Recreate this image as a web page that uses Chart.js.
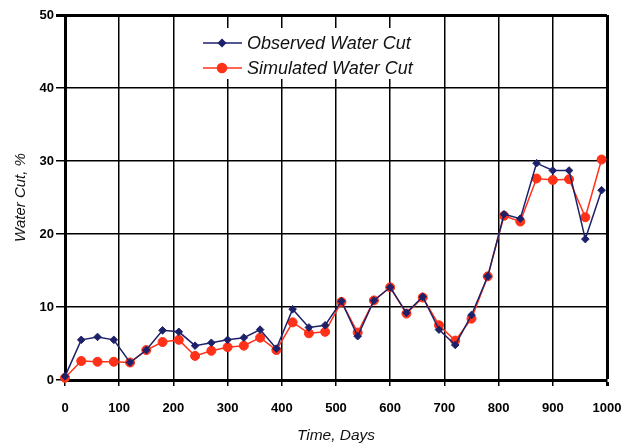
<!DOCTYPE html>
<html>
<head>
<meta charset="utf-8">
<script src="https://cdn.jsdelivr.net/npm/chart.js@4/dist/chart.umd.min.js"></script>
<style>
html,body{margin:0;padding:0;background:#fff;}
#wrap{width:629px;height:447px;position:relative;}
</style>
</head>
<body>
<div id="wrap"><canvas id="c" width="629" height="447"></canvas></div>
<script>
const days = [0,30,60,90,120,150,180,210,240,270,300,330,360,390,420,450,480,510,540,570,600,630,660,690,720,750,780,810,840,870,900,930,960,990];
const observed = [0.5,5.5,5.9,5.5,2.4,4.1,6.8,6.6,4.7,5.1,5.5,5.8,6.9,4.3,9.7,7.2,7.5,10.8,6.0,10.9,12.7,9.2,11.4,6.9,4.8,8.9,14.2,22.7,22.1,29.7,28.7,28.7,19.3,26.0];
const simulated = [0.3,2.6,2.5,2.5,2.4,4.1,5.2,5.5,3.3,4.0,4.5,4.7,5.8,4.1,7.9,6.4,6.6,10.7,6.5,10.9,12.7,9.1,11.3,7.5,5.4,8.4,14.2,22.5,21.7,27.6,27.4,27.5,22.3,30.2];
const seriesNames = ["Observed Water Cut","Simulated Water Cut"];
const xTitle = "Time, Days";
const yTitle = "Water Cut, %";

const blue = "#1d2169";
const red = "#ff3219";

const legendPlugin = {
  id: "insideLegend",
  afterDatasetsDraw(chart) {
    const ctx = chart.ctx;
    ctx.save();
    ctx.fillStyle = "#fff";
    ctx.fillRect(180, 28, 258, 51);
    const items = [
      {name: seriesNames[0], color: blue, style: "rectRot", r: 3.5, y: 43},
      {name: seriesNames[1], color: red, style: "circle", r: 4.5, y: 68}
    ];
    items.forEach(it => {
      ctx.strokeStyle = it.color;
      ctx.lineWidth = 1.5;
      ctx.beginPath();
      ctx.moveTo(203, it.y);
      ctx.lineTo(242, it.y);
      ctx.stroke();
      ctx.fillStyle = it.color;
      Chart.helpers.drawPoint(ctx, {pointStyle: it.style, radius: it.r, borderWidth: 1}, 222, it.y);
      ctx.fill();
      ctx.fillStyle = "#111";
      ctx.font = "italic 18px 'Liberation Sans', Arial, sans-serif";
      ctx.textBaseline = "middle";
      ctx.textAlign = "left";
      ctx.fillText(it.name, 247, it.y + 1);
    });
    ctx.restore();
  }
};

new Chart(document.getElementById("c"), {
  type: "line",
  data: {
    datasets: [
      {
        label: seriesNames[0],
        data: days.map((d,i)=>({x:d,y:observed[i]})),
        borderColor: blue,
        backgroundColor: blue,
        borderWidth: 1.5,
        pointStyle: "rectRot",
        pointRadius: 3.8,
        pointBorderWidth: 1,
        tension: 0
      },
      {
        label: seriesNames[1],
        data: days.map((d,i)=>({x:d,y:simulated[i]})),
        borderColor: red,
        backgroundColor: red,
        borderWidth: 1.5,
        pointStyle: "circle",
        pointRadius: 4.5,
        pointBorderWidth: 1,
        tension: 0
      }
    ]
  },
  options: {
    responsive: false,
    animation: false,
    clip: false,
    layout: {padding: {top: 15, right: 22, left: 0, bottom: 0}},
    plugins: {legend: {display: false}, tooltip: {enabled: false}},
    scales: {
      x: {
        type: "linear",
        min: 0, max: 1000,
        ticks: {stepSize: 100, color: "#000", padding: 15, callback: v => String(v),
          font: {family: "'Liberation Sans', Arial, sans-serif", size: 13, weight: "bold"}, maxRotation: 0},
        grid: {color: "#000", lineWidth: c => c.tick && c.tick.value === 1000 ? 3 : 1.5, tickLength: 6, drawTicks: true},
        border: {display: true, color: "#000", width: 3},
        title: {display: true, text: xTitle, color: "#111", padding: {top: 2, bottom: 2},
          font: {family: "'Liberation Sans', Arial, sans-serif", size: 15.5, style: "italic"}},
        afterFit: s => { s.height = 67; s.paddingRight = 0; }
      },
      y: {
        min: 0, max: 50,
        ticks: {stepSize: 10, color: "#000", padding: 2,
          font: {family: "'Liberation Sans', Arial, sans-serif", size: 13, weight: "bold"}},
        grid: {color: "#000", lineWidth: c => c.tick && c.tick.value === 50 ? 3 : 1.5, tickLength: 9, drawTicks: true},
        border: {display: true, color: "#000", width: 3},
        title: {display: true, text: yTitle, color: "#111", padding: {top: 12, bottom: 0},
          font: {family: "'Liberation Sans', Arial, sans-serif", size: 15, style: "italic"}},
        afterFit: s => { s.width = 65; }
      }
    }
  },
  plugins: [legendPlugin]
});
</script>
</body>
</html>
